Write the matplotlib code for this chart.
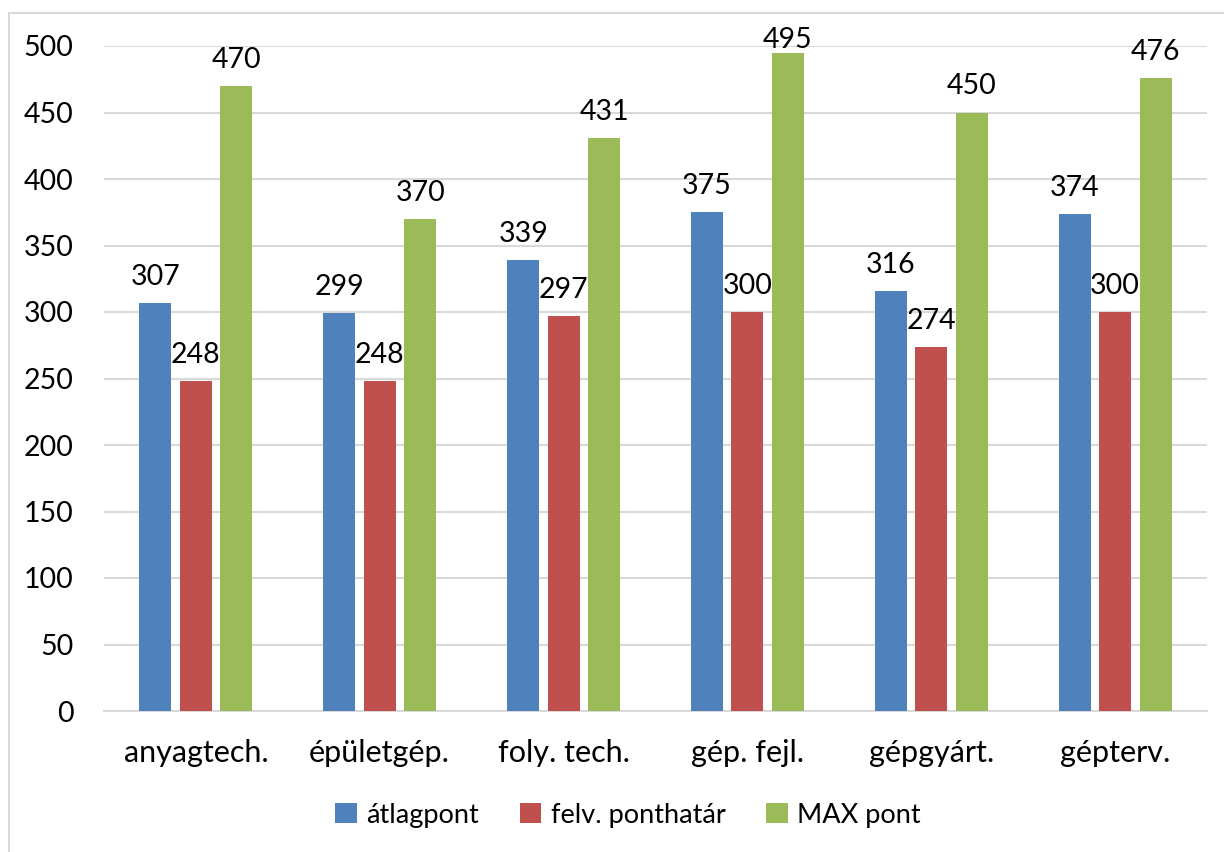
import matplotlib
matplotlib.use("Agg")
import matplotlib.pyplot as plt
import numpy as np
from matplotlib.lines import Line2D

plt.rcParams['font.family'] = ['Lato', 'DejaVu Sans']

categories = ["anyagtech.", "épületgép.", "foly. tech.", "gép. fejl.", "gépgyárt.", "gépterv."]
atlagpont = [307, 299, 339, 375, 316, 374]
ponthatar = [248, 248, 297, 300, 274, 300]
max_pont = [470, 370, 431, 495, 450, 476]
series_names = ["átlagpont", "felv. ponthatár", "MAX pont"]
colors = ["#4F81BD", "#C0504D", "#9BBB59"]

W, H = 1224, 852
fig = plt.figure(figsize=(W/100, H/100), dpi=100)
ax = fig.add_axes([104/W, 1-711/H, (1207-104)/W, (711-46)/H])

x = np.arange(len(categories))
width = 0.174
step = 0.22
fs_num = 20.5
fs_cat = 22
labels = []
for i, (vals, name, col) in enumerate(zip([atlagpont, ponthatar, max_pont], series_names, colors)):
    pos = x + (i-1)*step
    bars = ax.bar(pos, vals, width, color=col, label=name, zorder=3)
    for b, v in zip(bars, vals):
        t = ax.annotate(str(v), (b.get_x()+b.get_width()/2, v), xytext=(0, 13),
                        textcoords='offset points', ha='center', va='baseline',
                        fontsize=fs_num, color='black')
        labels.append(t)

ax.set_xlim(-0.5, len(categories)-0.5)
ax.set_ylim(0, 500)
ax.set_yticks(np.arange(0, 501, 50))
ax.yaxis.grid(True, color='#D9D9D9', linewidth=1.5, zorder=0)
ax.set_axisbelow(True)
for s in ['top', 'right', 'left']:
    ax.spines[s].set_visible(False)
ax.spines['bottom'].set_color('#D9D9D9')
ax.spines['bottom'].set_linewidth(1.5)
ax.set_xticks(x)
ax.set_xticklabels(categories, fontsize=fs_cat)
ax.tick_params(axis='y', length=0, labelsize=fs_num, pad=22)
ax.tick_params(axis='x', length=0, pad=20)

leg = fig.legend(loc='center', bbox_to_anchor=(628/W, 1-815/H), ncol=3, frameon=False,
                 fontsize=19.5, handlelength=0.8, handleheight=0.8, handletextpad=0.35,
                 columnspacing=1.5)

# keep data labels inside the chart area (as the original does for the tallest bar)
fig.canvas.draw()
r = fig.canvas.get_renderer()
top_limit = H - 27  # display px from bottom
for t in labels:
    bb = t.get_window_extent(r)
    if bb.y1 > top_limit:
        dy = (bb.y1 - top_limit) * 72 / fig.dpi
        t.xyann = (0, 13 - dy)

# chart border (left and top only visible)
fig.add_artist(Line2D([9/W, 9/W], [0, 1-13/H], transform=fig.transFigure, color='#D9D9D9', lw=1.5))
fig.add_artist(Line2D([9/W, 1], [1-13/H, 1-13/H], transform=fig.transFigure, color='#D9D9D9', lw=1.5))

fig.savefig("out.png", dpi=100)
